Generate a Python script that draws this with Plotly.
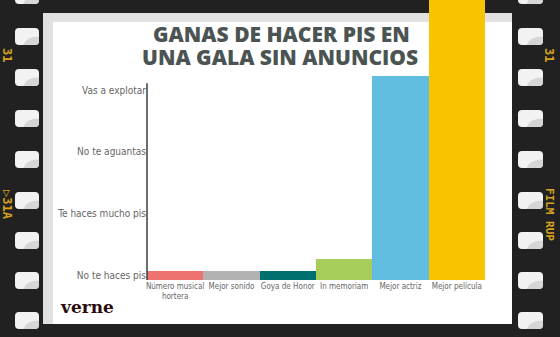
import plotly.graph_objects as go

# ---- data ----
categories = ["Número musical<br>hortera", "Mejor sonido", "Goya de Honor",
              "In memoriam", "Mejor actriz", "Mejor película"]
values = [0.15, 0.15, 0.15, 0.34, 3.31, 4.7]
bar_colors = ["#ec7370", "#b2b2b2", "#00706e", "#a9cd5b", "#61bde0", "#f8c400"]
level_labels = ["No te haces pis", "Te haces mucho pis", "No te aguantas", "Vas a explotar"]
level_values = [0.08, 1.08, 2.08, 3.08]
axis_top = 3.19
title_lines = ["GANAS DE HACER PIS EN", "UNA GALA SIN ANUNCIOS"]

W, H = 560, 337


def px(x):
    return x / W


def py(y):
    return 1 - y / H


def rrect(x0, y0, x1, y1, r=4):
    rx, ry = r / W, r / H
    X0, X1 = px(x0), px(x1)
    Y0, Y1 = py(y0), py(y1)  # Y0 top (larger), Y1 bottom
    return (f"M {X0+rx},{Y0} L {X1-rx},{Y0} Q {X1},{Y0} {X1},{Y0-ry} "
            f"L {X1},{Y1+ry} Q {X1},{Y1} {X1-rx},{Y1} L {X0+rx},{Y1} "
            f"Q {X0},{Y1} {X0},{Y1+ry} L {X0},{Y0-ry} Q {X0},{Y0} {X0+rx},{Y0} Z")


def shade(x0, y0, x1, y1, r=4):
    w, h = x1 - x0, y1 - y0
    rx, ry = r / W, r / H
    return (f"M {px(x0+0.35*w)},{py(y1)} Q {px(x0+0.45*w)},{py(y0+0.5*h)} {px(x1)},{py(y0+0.5*h)} "
            f"L {px(x1)},{py(y1)+ry} Q {px(x1)},{py(y1)} {px(x1)-rx},{py(y1)} Z")


shapes = []
# panel shadow frame and white panel
shapes.append(dict(type="rect", xref="paper", yref="paper", x0=px(43), x1=px(512),
                   y0=py(324), y1=py(13), fillcolor="#e1e1e1", line_width=0, layer="below"))
shapes.append(dict(type="rect", xref="paper", yref="paper", x0=px(53), x1=px(512),
                   y0=py(324), y1=py(22), fillcolor="#ffffff", line_width=0, layer="below"))
# film holes
for top in [-13, 28, 69, 110, 151, 192, 232, 272, 312]:
    for (a, b) in [(15, 39), (518, 543)]:
        shapes.append(dict(type="path", xref="paper", yref="paper", path=rrect(a, top, b, top + 17),
                           fillcolor="#f2f2f2", line_width=0, layer="below"))
        shapes.append(dict(type="path", xref="paper", yref="paper", path=shade(a, top, b, top + 17),
                           fillcolor="#d6d6d6", line_width=0, layer="below"))
# y axis line
shapes.append(dict(type="line", xref="x domain", yref="y", x0=0, x1=0, y0=0, y1=axis_top,
                   line=dict(color="#3c3c3c", width=1.5), layer="above"))

fig = go.Figure(go.Bar(x=categories, y=values, marker=dict(color=bar_colors, line_width=0),
                       width=1.0))

title_font = dict(family="Open Sans", size=21, color="#4b5453", weight=800)
film_font = dict(family="DejaVu Sans Mono", size=12, color="#d9a21e", weight="bold")


def ann(text, x, y, font, angle=0):
    return dict(text=text, x=px(x), y=py(y), xref="paper", yref="paper", showarrow=False,
                xanchor="center", yanchor="middle", textangle=angle, font=font)


annotations = [
    ann(title_lines[0], 281, 34, title_font),
    ann(title_lines[1], 280, 57, title_font),
    ann("verne", 87, 307, dict(family="DejaVu Serif", size=17, color="#2b0b0b", weight="bold")),
    ann("31", 7, 55, film_font, 90),
    ann("▷31A", 7, 205, film_font, 90),
    ann("31", 549, 55, film_font, 90),
    ann("FILM RUP", 550, 214, dict(family="DejaVu Sans Mono", size=11, color="#d9a21e", weight="bold"), 90),
]

fig.update_layout(
    template="none",
    width=W, height=H,
    margin=dict(l=0, r=0, t=0, b=0),
    paper_bgcolor="#212121",
    plot_bgcolor="rgba(0,0,0,0)",
    showlegend=False,
    bargap=0,
    shapes=shapes,
    annotations=annotations,
    xaxis=dict(domain=[px(147), px(485)], range=[-0.5, 5.5], showgrid=False, zeroline=False,
               showline=False, ticks="", automargin=False, tickangle=0,
               tickfont=dict(family="DejaVu Sans Condensed", size=8, color="#666666")),
    yaxis=dict(domain=[57 / H, 1], range=[0, 280 / 61.67], showgrid=False, zeroline=False,
               showline=False, ticks="", automargin=False,
               tickvals=level_values, ticktext=level_labels,
               tickfont=dict(family="DejaVu Sans Condensed", size=10, color="#666666")),
)

fig.write_html("out.html")
